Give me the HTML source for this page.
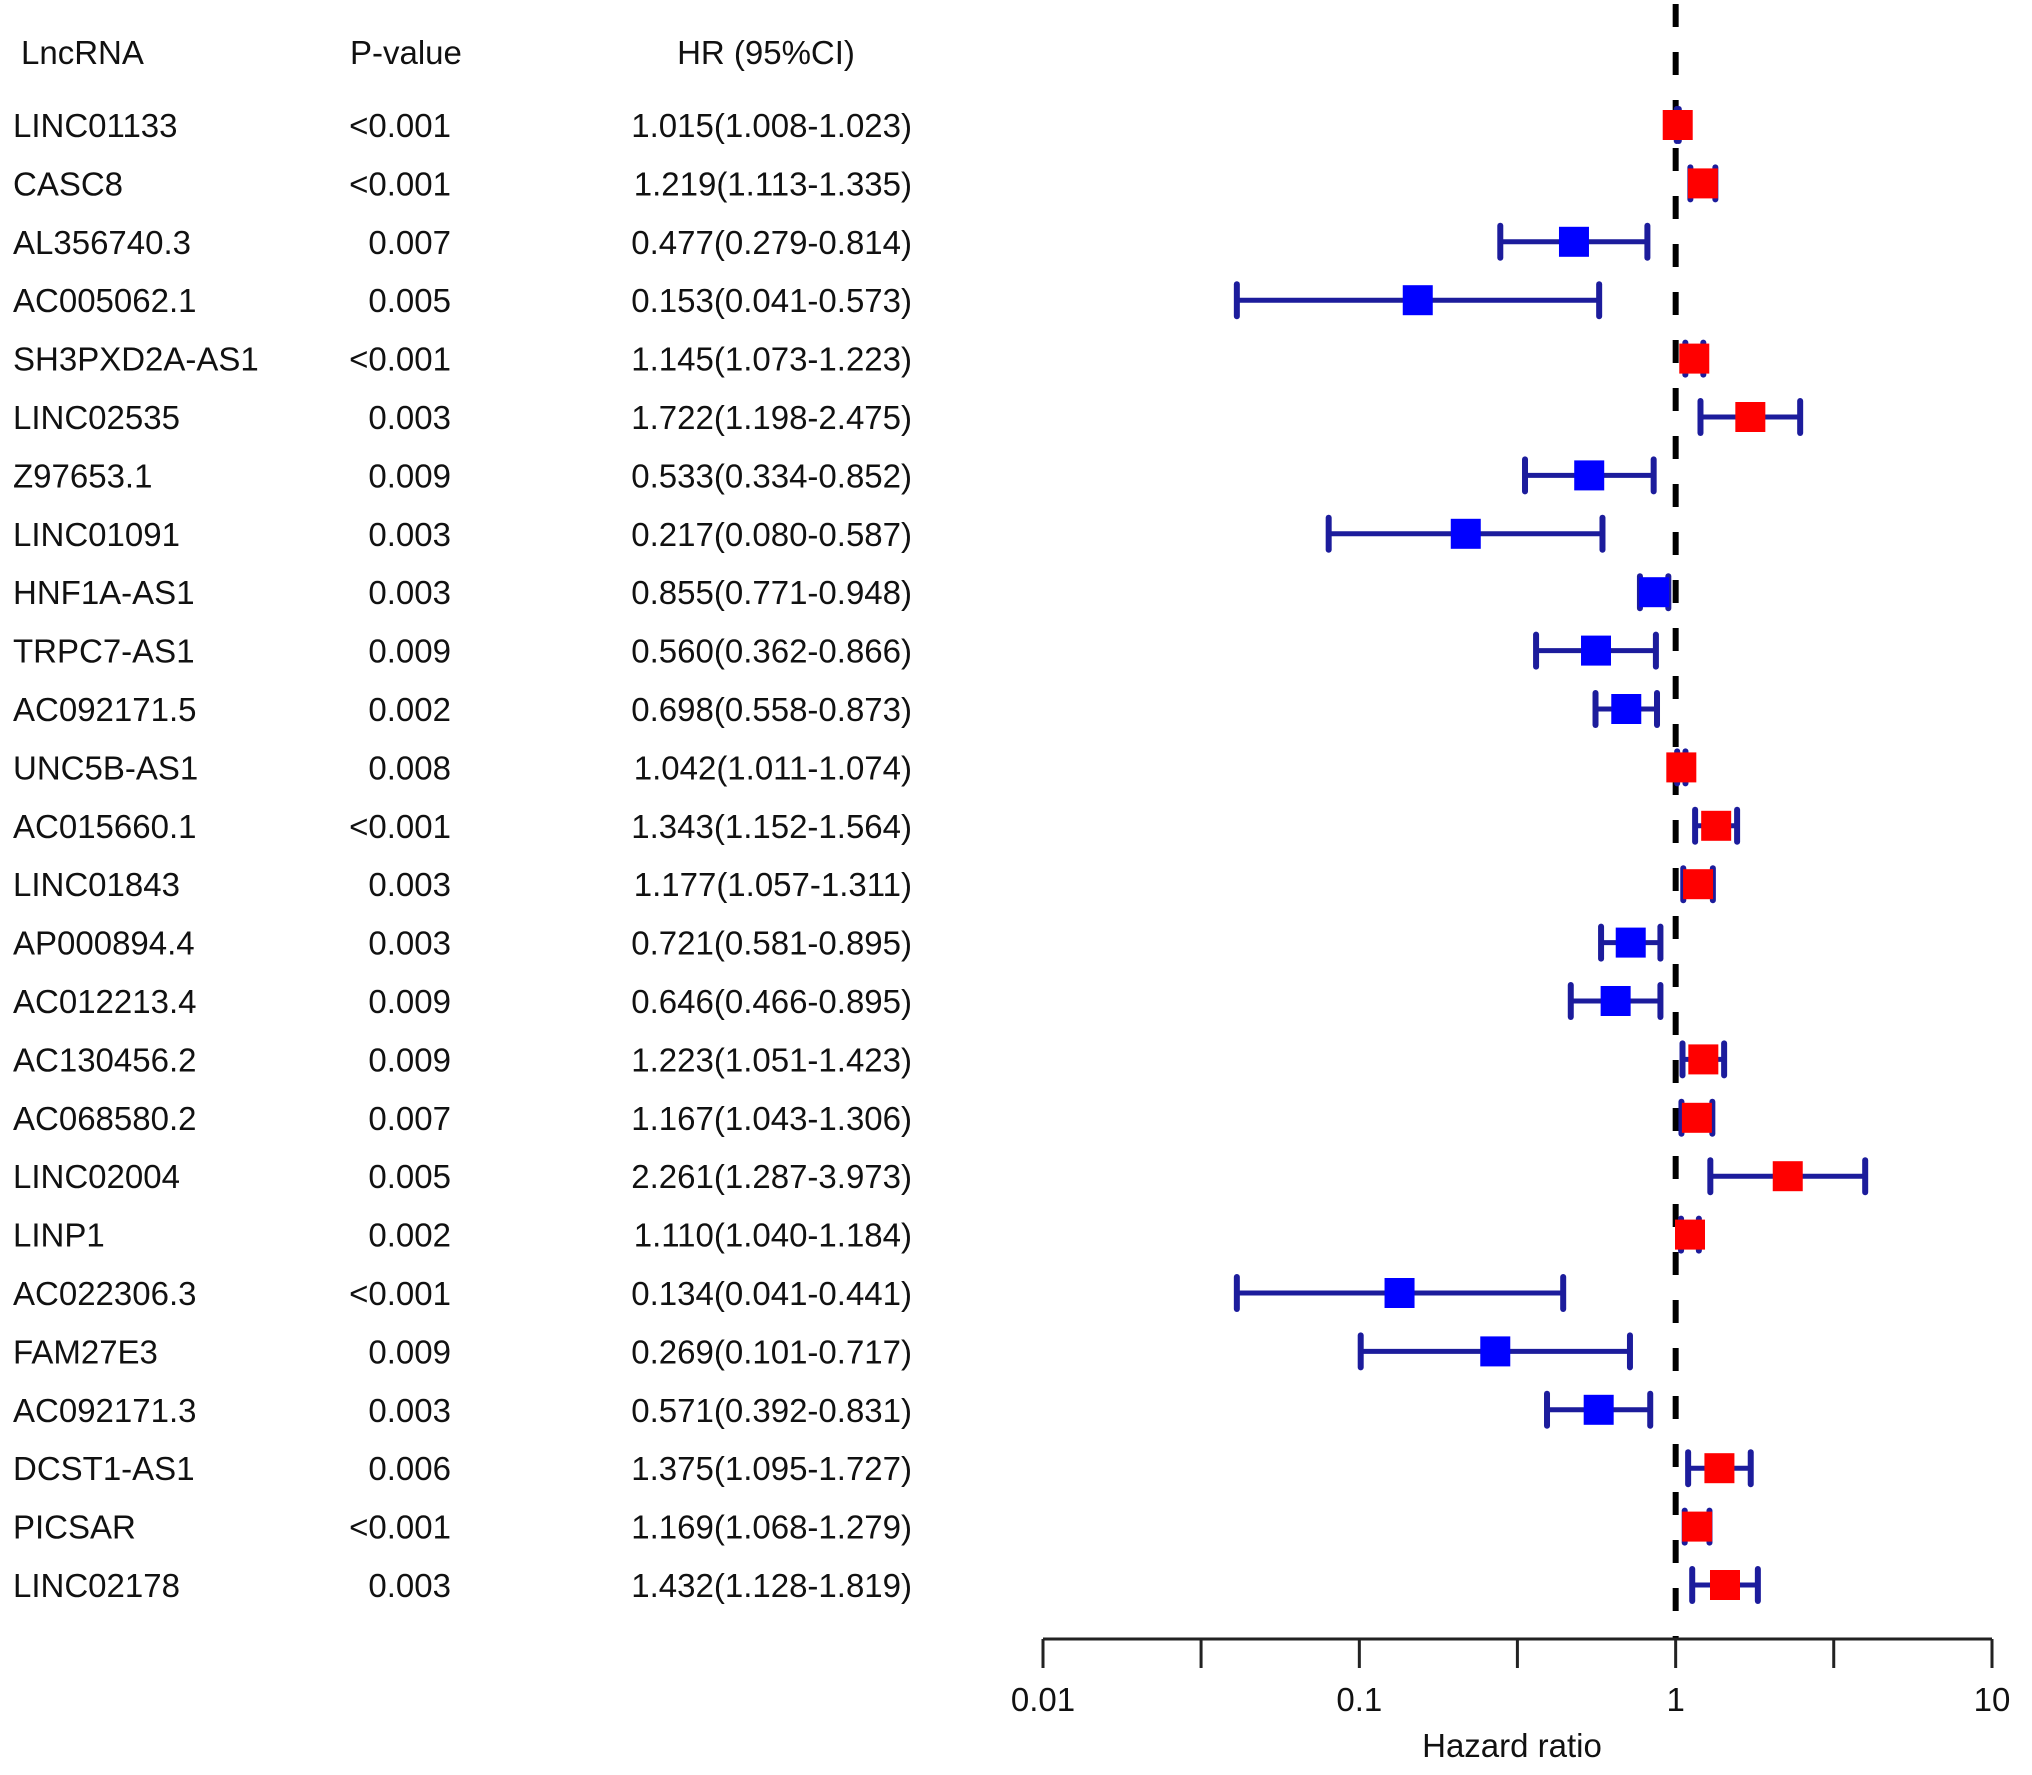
<!DOCTYPE html>
<html><head><meta charset="utf-8"><style>
body{margin:0;background:#fff;}
svg text{font-family:"Liberation Sans",Arial,sans-serif;fill:#111;}
</style></head><body>
<svg id="chart" width="2032" height="1770" viewBox="0 0 2032 1770" xmlns="http://www.w3.org/2000/svg">
<g id="table"></g>
<g id="plot"></g>
<g id="axis"></g>
</svg>
<script>
const names=["LINC01133","CASC8","AL356740.3","AC005062.1","SH3PXD2A-AS1","LINC02535","Z97653.1","LINC01091","HNF1A-AS1","TRPC7-AS1","AC092171.5","UNC5B-AS1","AC015660.1","LINC01843","AP000894.4","AC012213.4","AC130456.2","AC068580.2","LINC02004","LINP1","AC022306.3","FAM27E3","AC092171.3","DCST1-AS1","PICSAR","LINC02178"];
const pvals=["<0.001","<0.001","0.007","0.005","<0.001","0.003","0.009","0.003","0.003","0.009","0.002","0.008","<0.001","0.003","0.003","0.009","0.009","0.007","0.005","0.002","<0.001","0.009","0.003","0.006","<0.001","0.003"];
const hr=[1.015,1.219,0.477,0.153,1.145,1.722,0.533,0.217,0.855,0.560,0.698,1.042,1.343,1.177,0.721,0.646,1.223,1.167,2.261,1.110,0.134,0.269,0.571,1.375,1.169,1.432];
const lo=[1.008,1.113,0.279,0.041,1.073,1.198,0.334,0.080,0.771,0.362,0.558,1.011,1.152,1.057,0.581,0.466,1.051,1.043,1.287,1.040,0.041,0.101,0.392,1.095,1.068,1.128];
const hi=[1.023,1.335,0.814,0.573,1.223,2.475,0.852,0.587,0.948,0.866,0.873,1.074,1.564,1.311,0.895,0.895,1.423,1.306,3.973,1.184,0.441,0.717,0.831,1.727,1.279,1.819];
const ticks=[0.01,0.0316,0.1,0.316,1,3.16,10];
const tickLabels=["0.01","","0.1","","1","","10"];

const NS="http://www.w3.org/2000/svg";
const X0=1043,X1=1992;
const xs=v=>X0+(Math.log10(v)+2)/3*(X1-X0);
const ys=i=>125+i*58.4;
function mk(p,t,a){const e=document.createElementNS(NS,t);for(const k in a)e.setAttribute(k,a[k]);p.appendChild(e);return e;}
const T=document.getElementById('table'),P=document.getElementById('plot'),A=document.getElementById('axis');
const FS=33;
let h;
h=mk(T,'text',{x:21,y:64,'font-size':FS});h.textContent="LncRNA";


h=mk(T,'text',{x:350,y:64,'font-size':FS});h.textContent="P-value";


h=mk(T,'text',{x:766,y:64,'font-size':FS,'text-anchor':'middle'});h.textContent="HR (95%CI)";


h=mk(P,'line',{x1:xs(1),x2:xs(1),y1:4,y2:1640,stroke:'#000','stroke-width':6,'stroke-dasharray':'23 25'});


names.forEach((n,i)=>{
  const y=ys(i);
  let e=mk(T,'text',{x:13,y:y+12,'font-size':FS});e.textContent=n;
  
  
  e=mk(T,'text',{x:451,y:y+12,'font-size':FS,'text-anchor':'end'});e.textContent=pvals[i];
  
  
  e=mk(T,'text',{x:912,y:y+12,'font-size':FS,'text-anchor':'end'});e.textContent=hr[i].toFixed(3)+"("+lo[i].toFixed(3)+"-"+hi[i].toFixed(3)+")";
  
  
  const g=mk(P,'g',{});
  
  
  const c='#1c1c9c';
  mk(g,'line',{x1:xs(lo[i]),x2:xs(hi[i]),y1:y,y2:y,stroke:c,'stroke-width':5});
  mk(g,'line',{x1:xs(lo[i]),x2:xs(lo[i]),y1:y-16,y2:y+16,stroke:c,'stroke-width':6,'stroke-linecap':'round'});
  mk(g,'line',{x1:xs(hi[i]),x2:xs(hi[i]),y1:y-16,y2:y+16,stroke:c,'stroke-width':6,'stroke-linecap':'round'});
  const b=mk(g,'rect',{x:xs(hr[i])-15,y:y-15,width:30,height:30,fill:hr[i]>1?'#ff0000':'#0000ff'});
  
  
});
h=mk(A,'line',{x1:X0,x2:X1,y1:1639,y2:1639,stroke:'#222','stroke-width':3});


ticks.forEach((t,i)=>{
  let e=mk(A,'line',{x1:xs(t),x2:xs(t),y1:1639,y2:1668,stroke:'#222','stroke-width':3});
  
  
  if(tickLabels[i]){e=mk(A,'text',{x:xs(t),y:1711,'font-size':FS,'text-anchor':'middle'});e.textContent=tickLabels[i];
  
  }
});
h=mk(A,'text',{x:1512,y:1757,'font-size':FS,'text-anchor':'middle'});h.textContent="Hazard ratio";


</script>
</body></html>
